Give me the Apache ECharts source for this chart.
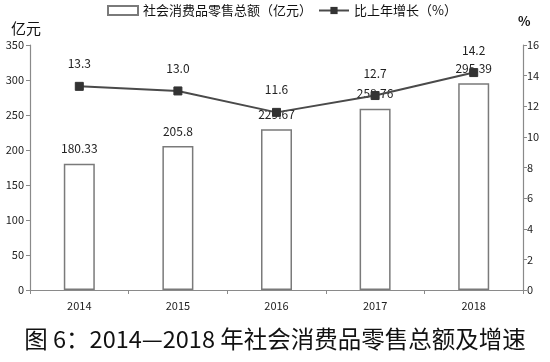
<!DOCTYPE html>
<html><head><meta charset="utf-8">
<script src="https://cdn.jsdelivr.net/npm/echarts@6/dist/echarts.min.js"></script>
<style>html,body{margin:0;padding:0;background:#fff}#c{width:550px;height:362px}</style>
</head><body><div id="c"></div>
<script>
const categories = ['2014', '2015', '2016', '2017', '2018'];
const retailSales = [180.33, 205.8, 229.67, 258.76, 295.39];
const growthRate = [13.3, 13.0, 11.6, 12.7, 14.2];
const growthLabels = ['13.3', '13.0', '11.6', '12.7', '14.2'];
const leftTicks = [0, 50, 100, 150, 200, 250, 300, 350];
const rightTicks = [0, 2, 4, 6, 8, 10, 12, 14, 16];

const FONT = 'Noto Sans CJK SC';
const axisCol = '#8a8a8a';
const chart = echarts.init(document.getElementById('c'));
chart.setOption({
  animation: false,
  textStyle: { fontFamily: FONT },
  title: [
    { text: '亿元', left: 6, top: 16, textStyle: { fontSize: 15, fontWeight: 'normal', color: '#111', fontFamily: FONT } },
    { text: '%', left: 513, top: 10, textStyle: { fontSize: 13, fontWeight: 'bold', color: '#111', fontFamily: FONT } },
    { text: '图 6：2014—2018 年社会消费品零售总额及增速', left: 'center', top: 322, textStyle: { fontSize: 23.5, fontWeight: 'normal', color: '#111', fontFamily: FONT } }
  ],
  legend: {
    left: 102, top: -1, itemGap: 6, itemWidth: 30, itemHeight: 9,
    textStyle: { fontSize: 13, color: '#111', fontFamily: FONT },
    data: [
      { name: '社会消费品零售总额（亿元）', icon: 'rect' },
      { name: '比上年增长（%）' }
    ]
  },
  grid: { left: 30, right: 27, top: 45, bottom: 72 },
  xAxis: {
    type: 'category', data: categories,
    axisLine: { lineStyle: { color: axisCol, width: 1.2 } },
    axisTick: { show: true, length: 4, lineStyle: { color: axisCol } },
    axisLabel: { fontSize: 11, color: '#222', margin: 10 }
  },
  yAxis: [
    {
      type: 'value', min: leftTicks[0], max: leftTicks[leftTicks.length - 1], interval: 50,
      axisLine: { show: true, lineStyle: { color: axisCol, width: 1.2 } },
      axisTick: { show: true, length: 4, lineStyle: { color: axisCol } },
      splitLine: { show: false },
      axisLabel: { fontSize: 11, color: '#222', margin: 6 }
    },
    {
      type: 'value', min: rightTicks[0], max: rightTicks[rightTicks.length - 1], interval: 2,
      position: 'right',
      axisLine: { show: true, lineStyle: { color: axisCol, width: 1.2 } },
      axisTick: { show: true, length: 4, lineStyle: { color: axisCol } },
      splitLine: { show: false },
      axisLabel: { fontSize: 11, color: '#222', margin: 4 }
    }
  ],
  series: [
    {
      name: '社会消费品零售总额（亿元）', type: 'bar', data: retailSales, barWidth: 31,
      itemStyle: { color: '#fff', borderColor: '#7a7a7a', borderWidth: 1.5 },
      label: { show: true, position: 'top', distance: 9, fontSize: 12, color: '#222' }
    },
    {
      name: '比上年增长（%）', type: 'line', yAxisIndex: 1, data: growthRate,
      symbol: 'rect', symbolSize: 8,
      lineStyle: { color: '#4a4a4a', width: 2 },
      itemStyle: { color: '#333', borderColor: '#333' },
      label: { show: true, position: 'top', distance: 12, fontSize: 12, color: '#222',
        formatter: p => growthLabels[p.dataIndex] }
    }
  ]
});
</script></body></html>
